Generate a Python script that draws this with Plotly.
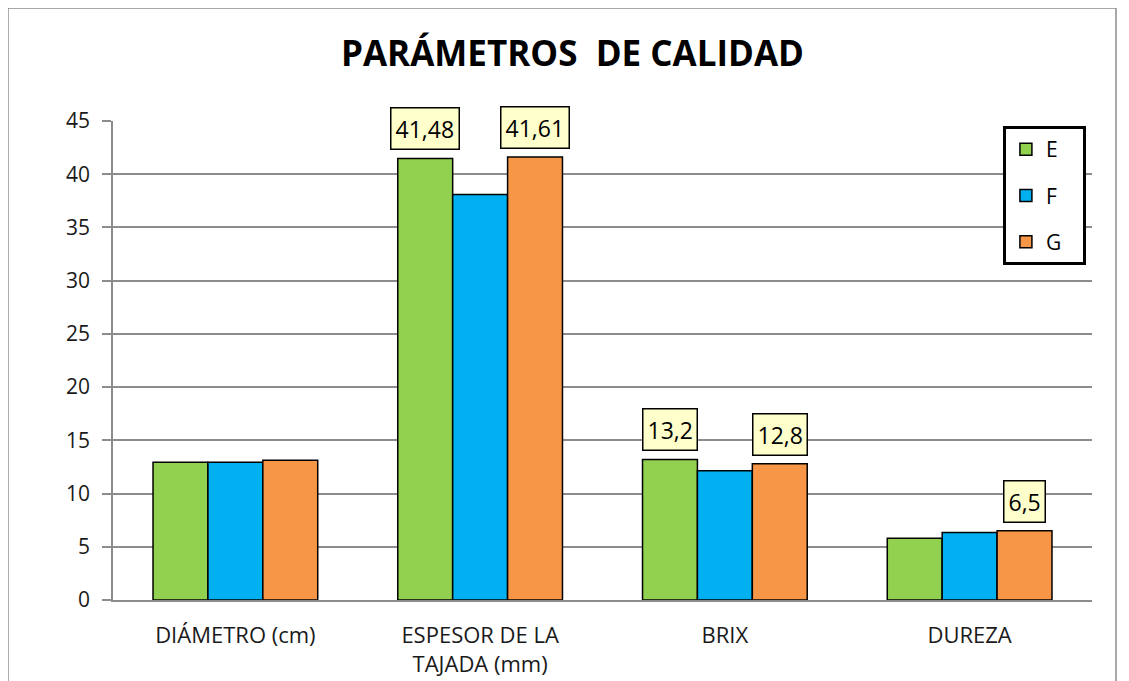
import plotly.graph_objects as go

categories = ["DIÁMETRO (cm)", "ESPESOR DE LA<br>TAJADA (mm)", "BRIX", "DUREZA"]
series_names = ["E", "F", "G"]
values_e = [12.95, 41.48, 13.2, 5.8]
values_f = [12.95, 38.1, 12.15, 6.35]
values_g = [13.12, 41.61, 12.8, 6.5]
colors = ["#92d050", "#00b0f0", "#f79646"]

# labelled points: (series index, category index, text)
labels = [
    (0, 1, "41,48"), (2, 1, "41,61"),
    (0, 2, "13,2"), (2, 2, "12,8"),
    (2, 3, "6,5"),
]

y_ticks = [0, 5, 10, 15, 20, 25, 30, 35, 40, 45]

FONT = "Open Sans, Noto Sans, sans-serif"

all_values = [values_e, values_f, values_g]

fig = go.Figure()
for i, (name, vals) in enumerate(zip(series_names, all_values)):
    fig.add_trace(go.Bar(
        x=categories,
        y=vals,
        name=name + "\u00a0\u00a0\u00a0",
        legendgroup=name,
        marker=dict(color=colors[i], line=dict(color="black", width=1.5)),
    ))

bar_px = 55
for s, c, txt in labels:
    fig.add_annotation(
        x=categories[c], y=all_values[s][c],
        xref="x", yref="y",
        text=txt, showarrow=False,
        xshift=(s - 1) * bar_px,
        yanchor="bottom", yshift=8,
        bgcolor="#ffffcc", bordercolor="black", borderwidth=1.5, borderpad=4,
        font=dict(family=FONT, size=23, color="black"),
    )

# outer chart border
fig.add_shape(
    type="rect", xref="paper", yref="paper",
    x0=-0.1073, x1=1.0245, y0=-0.3, y1=1.236,
    line=dict(color="#8c8c8c", width=1.5),
    fillcolor="rgba(0,0,0,0)", layer="below",
)

fig.update_layout(
    width=1129, height=681,
    barmode="group",
    bargap=0.327,
    bargroupgap=0,
    title=dict(
        text="<b>PARÁMETROS  DE CALIDAD</b>",
        x=0.5, xref="container", xanchor="center",
        y=1 - 46 / 681, yref="container", yanchor="middle",
        font=dict(family=FONT, size=35, color="black"),
    ),
    xaxis=dict(
        showgrid=False,
        showline=True, linecolor="#8c8c8c", linewidth=1.5,
        ticks="",
        ticklabelstandoff=15,
        tickfont=dict(family=FONT, size=22, color="#1a1a1a"),
    ),
    yaxis=dict(
        range=[0, 45],
        tickvals=y_ticks,
        showgrid=True, gridcolor="#8c8c8c", gridwidth=1.5,
        showline=True, linecolor="#8c8c8c", linewidth=1.5,
        ticks="outside", ticklen=9, tickcolor="#8c8c8c", tickwidth=1.5,
        zeroline=False,
        ticklabelstandoff=8,
        tickfont=dict(family=FONT, size=21, color="#1a1a1a"),
    ),
    legend=dict(
        x=0.909, y=0.9896, xanchor="left", yanchor="top",
        bordercolor="black", borderwidth=3, bgcolor="white",
        font=dict(family=FONT, size=21, color="black"),
        traceorder="grouped", tracegroupgap=16,
        itemwidth=30,
    ),
    margin=dict(l=105, r=45, t=113, b=89),
    paper_bgcolor="white",
    plot_bgcolor="white",
)

fig.write_html("out.html")
